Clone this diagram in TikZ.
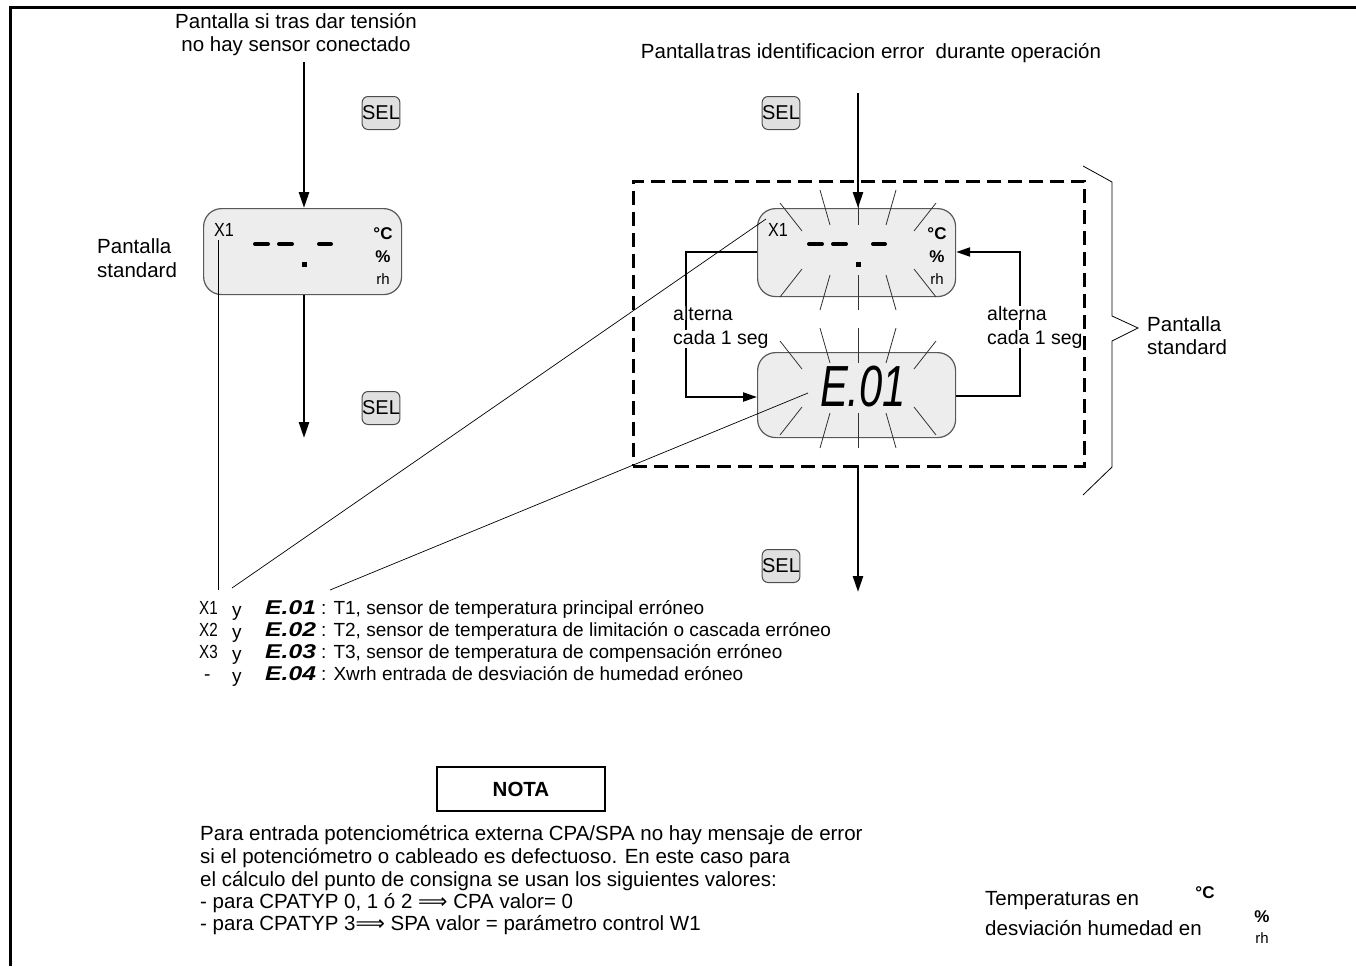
\documentclass[tikz,border=0pt]{standalone}
\usepackage{fontspec}
\setmainfont{Liberation Sans}
\newfontfamily\symfont{DejaVu Sans}
\usetikzlibrary{arrows.meta}
\newcommand{\lcdcontent}[1]{%
  \node[lcdx] (#1x) at (21,22) {\scalebox{0.85}[1]{X1}};
  \draw[seg] (52,36) -- (65,36);
  \draw[seg] (76,36) -- (89,36);
  \draw[seg] (116,36) -- (128,36);
  \fill (99,54) rectangle (104,59);
  \node[unit] (#1c) at (180,26) {°C};
  \node[unit] (#1p) at (180,49) {\%};
  \node[rhs] (#1r) at (180,71) {rh};
}
\newcommand{\lcdrays}{%
  \foreach \a/\b/\c/\d in {-78/-47/-56/-19, -38/-60/-28/-25, 0/-60/0/-25, 38/-60/28/-25, 78/-47/56/-19,
                           -56/19/-78/47, -28/25/-38/60, 0/25/0/60, 28/25/38/60, 56/19/78/47}
    {\draw[ray] (\a,\b) -- (\c,\d);}
}
\newcommand{\impl}{{\symfont ⟹}}
\begin{document}
\begin{tikzpicture}[x=1pt,y=-1pt, inner sep=0pt,
  font=\fontsize{20.5}{23}\selectfont,
  lcd/.style={draw=black!65, fill=black!7, line width=1.2pt, rounded corners=18pt,
              minimum width=198pt, anchor=north west},
  selbtn/.style={draw=black!70, fill=black!12, line width=1pt, rounded corners=6pt,
                 minimum width=35pt, minimum height=33pt, font=\fontsize{20}{20}\selectfont},
  flow/.style={line width=2.6pt, -{Triangle[length=16pt,width=10pt]}},
  cycleflow/.style={line width=2.2pt, -{Triangle[length=14pt,width=9pt]}},
  ray/.style={draw=black!80, line width=0.8pt},
  pointer/.style={line width=0.7pt},
  seg/.style={line width=4pt, line cap=round},
  lcdx/.style={font=\fontsize{19}{19}\selectfont},
  unit/.style={font=\bfseries\fontsize{17}{17}\selectfont},
  rhs/.style={font=\fontsize{15}{15}\selectfont},
  txt/.style={anchor=base west},
  ptxt/.style={anchor=base west, text height=14pt, text depth=4pt},
  ntxt/.style={anchor=base west, font=\fontsize{20.5}{22}\selectfont},
  ltxt/.style={anchor=base west, font=\fontsize{19}{22}\selectfont},
  wtxt/.style={anchor=base west, fill=white, font=\fontsize{19.5}{22}\selectfont},
  ctxt/.style={anchor=base},
  errcode/.style={anchor=base west, font=\bfseries\itshape\fontsize{19}{22}\selectfont},
]
\useasboundingbox (0,0) rectangle (1356,966);
% frame
\draw[line width=3pt] (10.5,966) -- (10.5,7.5) -- (1356,7.5);

% ---------- left column ----------
\node[ctxt] (lt1) at (296,29) {Pantalla si tras dar tensión};
\node[ctxt] (lt2) at (296,52) {no hay sensor conectado};
\node[selbtn] (sel1) at (381,113) {SEL};
\node[txt] (ls1) at (97,253) {Pantalla};
\node[txt] (ls2) at (97,277) {standard};
\node[lcd, minimum height=86pt] (lbox) at (203,208) {};
\begin{scope}[shift={(lbox.north west)}]
  \lcdcontent{l}
\end{scope}
\coordinate (lin) at (304,62);
\coordinate (lout) at (304,438);
\draw[flow] (lin) -- (lin |- lbox.north);
\draw[flow] (lin |- lbox.south) -- (lout);
\node[selbtn] (sel2) at (381,408) {SEL};

% ---------- right column ----------
\node[ctxt] (rt1) at (871,59) {Pantalla\hspace{2pt}tras identificacion error \ durante operación};
\node[selbtn] (sel3) at (781,113) {SEL};
\node[lcd, minimum height=88pt] (tbox) at (757,208) {};
\node[lcd, minimum height=85pt] (bbox) at (757,352) {};
\begin{scope}[shift={(tbox.north west)}]
  \lcdcontent{t}
\end{scope}
\node (ecode) at (863,387) {\scalebox{0.72}[1]{\fontsize{58}{58}\selectfont\itshape E.01}};
\begin{scope}[shift={(858,250)}]
  \lcdrays
\end{scope}
\begin{scope}[shift={(858,388)}]
  \lcdrays
\end{scope}
\coordinate (rin) at (858,93);
\coordinate (dbot) at (858,465);
\coordinate (rout) at (858,592);
\draw[flow] (rin) -- (rin |- tbox.north);
\draw[flow] (dbot) -- (rout);
\coordinate (lloop) at (686,252);
\coordinate (rloop) at (1020,396);
\draw[cycleflow] (tbox.west |- lloop) -| (lloop |- 0,397) -- (bbox.west |- 0,397);
\draw[cycleflow] (bbox.east |- rloop) -| (rloop |- 0,252) -- (tbox.east |- 0,252);
\node[wtxt] (al1) at (673,320) {alterna};
\node[wtxt] (al2) at (673,344) {cada 1 seg};
\node[wtxt] (ar1) at (987,320) {alterna};
\node[wtxt] (ar2) at (987,344) {cada 1 seg};
\node[draw, line width=2.8pt, dash pattern=on 14pt off 7pt, anchor=north west,
      minimum width=451pt, minimum height=285pt] (dbox) at (632,180) {};
\node[selbtn] (sel4) at (781,566) {SEL};

% brace
\draw[line width=0.8pt] (1083,166) -- (1112,182) -- (1112,316) -- (1138,328) -- (1112,341) -- (1112,467) -- (1083,495);
\node[txt] (rs1) at (1147,331) {Pantalla};
\node[txt] (rs2) at (1147,354) {standard};

% ---------- list ----------
\node[ltxt] (x1) at (199,614) {\scalebox{0.8}[1]{X1}};
\node[ltxt] (x2) at (199,636) {\scalebox{0.8}[1]{X2}};
\node[ltxt] (x3) at (199,658) {\scalebox{0.8}[1]{X3}};
\node[ltxt] (x4) at (204,680) {-};
\node[ltxt] (y1) at (232,616) {y};
\node[ltxt] (y2) at (232,638) {y};
\node[ltxt] (y3) at (232,660) {y};
\node[ltxt] (y4) at (232,682) {y};
\node[errcode] (e1) at (265,614) {\scalebox{1.3}[1.05]{E.01}};
\node[errcode] (e2) at (265,636) {\scalebox{1.3}[1.05]{E.02}};
\node[errcode] (e3) at (265,658) {\scalebox{1.3}[1.05]{E.03}};
\node[errcode] (e4) at (265,680) {\scalebox{1.3}[1.05]{E.04}};
\node[ltxt] (d1) at (321,614) {: T1, sensor de temperatura principal erróneo};
\node[ltxt] (d2) at (321,636) {: T2, sensor de temperatura de limitación o cascada erróneo};
\node[ltxt] (d3) at (321,658) {: T3, sensor de temperatura de compensación erróneo};
\node[ltxt] (d4) at (321,680) {: Xwrh entrada de desviación de humedad eróneo};

% pointer lines
\coordinate (px1) at (218,240);
\coordinate (px2) at (766,219);
\coordinate (pe) at (808,393);
\draw[pointer] (px1) -- (px1 |- 0,590);
\draw[pointer] (px2) -- (232,588);
\draw[pointer] (pe) -- (330,590);

% ---------- note ----------
\node[draw, line width=1.2pt, minimum width=168pt, minimum height=44pt,
      font=\bfseries\fontsize{20.5}{23}\selectfont] (nota) at (521,789) {NOTA};
\node[ntxt] (n1) at (200,840) {Para entrada potenciométrica externa CPA/SPA no hay mensaje de error};
\node[ntxt] (n2) at (200,863) {si el potenciómetro o cableado es defectuoso. En este caso para};
\node[ntxt] (n3) at (200,886) {el cálculo del punto de consigna se usan los siguientes valores:};
\node[ntxt] (n4) at (200,908) {- para CPATYP 0, 1 ó 2 \impl\ CPA valor= 0};
\node[ntxt] (n5) at (200,930) {- para CPATYP 3\impl\ SPA valor = parámetro control W1};

% ---------- units legend ----------
\node[ptxt] (u1) at (985,905) {Temperaturas en};
\node[ptxt] (u2) at (985,935) {desviación humedad en};
\node[unit] (uc) at (1205,893) {°C};
\node[unit] (up) at (1262,917) {\%};
\node[rhs] (ur) at (1262,938) {rh};
\end{tikzpicture}
\end{document}
